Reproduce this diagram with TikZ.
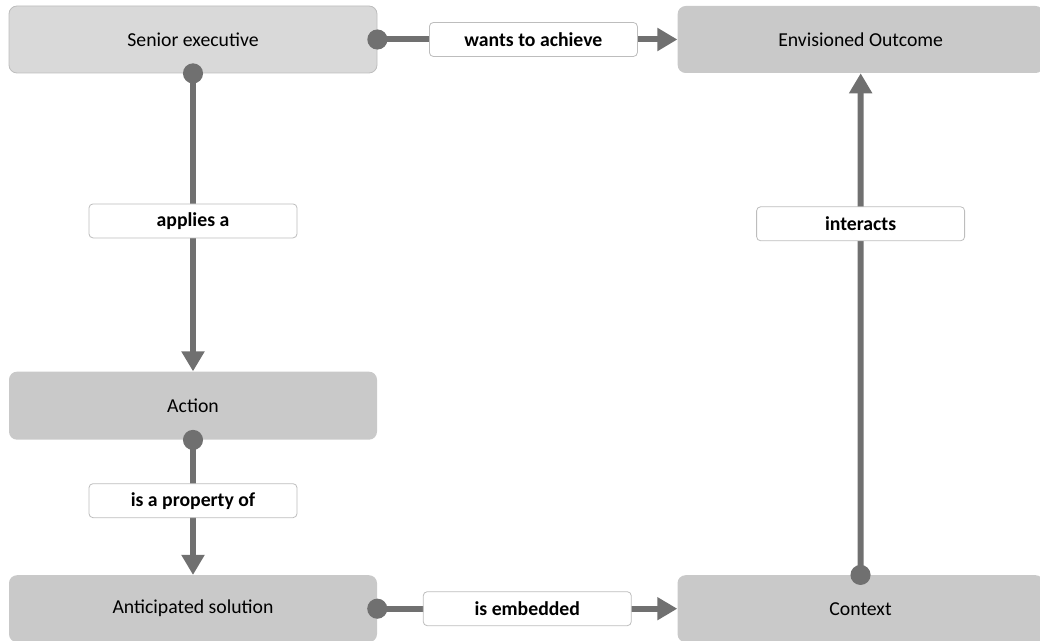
\documentclass[tikz,border=0pt]{standalone}
\usepackage{fontspec}
\setmainfont{Carlito}
\usepackage{tikz}
\usetikzlibrary{arrows.meta, positioning}
\usepackage{xcolor}
\definecolor{boxgray}{HTML}{C9C9C9}
\definecolor{boxlight}{HTML}{D9D9D9}
\definecolor{boxedge}{HTML}{BDBDBD}
\definecolor{linkgray}{HTML}{707070}

\begin{document}
\begin{tikzpicture}[
  box/.style={rounded corners=6pt, fill=boxgray, minimum width=276pt,
              minimum height=50.25pt, text centered, font=\fontsize{14.8}{17}\selectfont},
  lbl/.style={draw=boxedge, line width=0.6pt, fill=white, rounded corners=3pt,
              minimum width=156pt, minimum height=25.5pt, inner sep=0pt,
              font=\bfseries\fontsize{14.8}{17}\selectfont},
  link/.style={draw=linkgray, line width=4.5pt,
               {Circle[length=15pt, width=15pt]}-{Triangle[length=15pt, width=16.5pt]},
               shorten <=-7.5pt}
]
\useasboundingbox (0,0) rectangle (780pt,480pt);

\node[box, fill=boxlight, draw=boxedge, line width=0.6pt] (sen) at (144.75pt,450.375pt) {Senior executive};
\node[box, minimum width=274.5pt, right=225pt of sen] (env) {Envisioned Outcome};
\node[box, minimum height=51pt, below=223.5pt of sen] (act) {Action};
\node[box, below=101.25pt of act] (ant) {Anticipated solution};
\node[box, minimum width=274.5pt, right=225pt of ant] (ctx) {Context};

\draw[link] (sen.east) -- node[lbl, pos=0.52]{wants to achieve} (env.west);
\draw[link] (sen.south) -- node[lbl, pos=0.495]{applies a} (act.north);
\draw[link] (act.south) -- node[lbl, pos=0.45]{is a property of} (ant.north);
\draw[link] (ant.east) -- node[lbl, pos=0.5]{is embedded} (ctx.west);
\draw[link] (ctx.north) -- node[lbl, pos=0.70]{interacts} (env.south);
\end{tikzpicture}
\end{document}
